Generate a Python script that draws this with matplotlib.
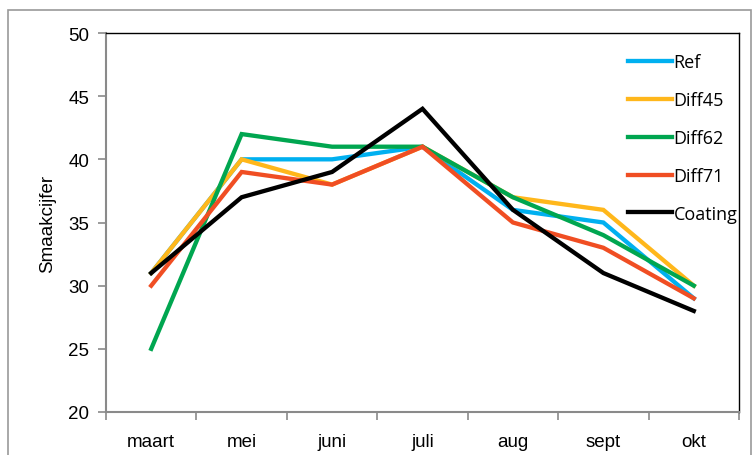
import matplotlib
matplotlib.use("Agg")
import matplotlib.pyplot as plt
from matplotlib.patches import Rectangle

plt.rcParams['font.family'] = ['Liberation Sans', 'DejaVu Sans']

# data
months = ["maart", "mei", "juni", "juli", "aug", "sept", "okt"]
ref = [31, 40, 40, 41, 36, 35, 29]
diff45 = [31, 40, 38, 41, 37, 36, 30]
diff62 = [25, 42, 41, 41, 37, 34, 30]
diff71 = [30, 39, 38, 41, 35, 33, 29]
coating = [31, 37, 39, 44, 36, 31, 28]

series_names = ["Ref", "Diff45", "Diff62", "Diff71", "Coating"]
colors = ["#00B0F0", "#FFB71B", "#00A650", "#F04E23", "#000000"]


def main():
    W, H = 754, 456
    fig = plt.figure(figsize=(W / 100, H / 100), dpi=100)
    ax = fig.add_axes([106 / W, 1 - 413 / H, (739 - 106) / W, (413 - 34) / H])

    # outer chart frame
    fig.add_artist(Rectangle((8 / W, -0.05), (751 - 8) / W, 1.05 - 11 / H,
                             transform=fig.transFigure, fill=False,
                             edgecolor="#9a9a9a", linewidth=1.2))

    x = list(range(len(months)))
    for vals, name, col in zip([ref, diff45, diff62, diff71, coating], series_names, colors):
        ax.plot(x, vals, color=col, linewidth=3.1, label=name, solid_joinstyle="miter")

    ax.set_xlim(-0.5, len(months) - 0.5)
    ax.set_ylim(20, 50)
    ax.set_yticks(range(20, 51, 5))
    ax.set_xticks(x)
    ax.set_xticklabels(months)
    ax.set_xticks([i - 0.5 for i in range(len(months) + 1)], minor=True)
    ax.tick_params(axis="x", which="major", length=0, pad=15, labelsize=13.5)
    ax.tick_params(axis="x", which="minor", length=6, color="#8a8a8a", width=1.2)
    ax.tick_params(axis="y", length=6, color="#8a8a8a", width=1.2, pad=6, labelsize=13.5)

    for side in ["left", "bottom"]:
        ax.spines[side].set_color("#8a8a8a")
        ax.spines[side].set_linewidth(1.5)
    for side in ["top", "right"]:
        ax.spines[side].set_color("#000000")
        ax.spines[side].set_linewidth(1.0)

    ax.set_ylabel("Smaakcijfer", fontsize=13.5, labelpad=9)

    ax.legend(loc="upper left", bbox_to_anchor=((612 - 106) / 633, 1.0 - 4 / 379),
              frameon=False, handlelength=2.4, handletextpad=0.1, labelspacing=1.1,
              prop={"family": ["Open Sans", "DejaVu Sans"], "size": 13})

    fig.savefig("out.png", dpi=100)


if __name__ == "__main__":
    main()
